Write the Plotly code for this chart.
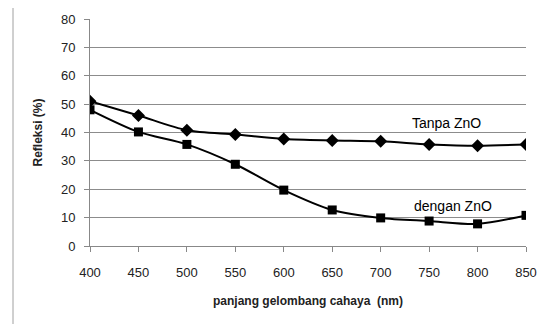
import plotly.graph_objects as go

wavelength = [400, 450, 500, 550, 600, 650, 700, 750, 800, 850]
tanpa_zno = [51.0, 46.0, 40.8, 39.3, 37.7, 37.2, 36.9, 35.8, 35.3, 35.8]
dengan_zno = [48.0, 40.2, 35.8, 28.8, 19.7, 12.7, 9.9, 8.8, 7.8, 10.8]

font_family = "Liberation Sans, Arial, sans-serif"

fig = go.Figure()
fig.add_trace(go.Scatter(
    x=wavelength, y=tanpa_zno, mode="lines+markers", name="Tanpa ZnO",
    line=dict(color="black", width=2, shape="spline", smoothing=0.8),
    marker=dict(symbol="diamond", size=10, color="black"),
))
fig.add_trace(go.Scatter(
    x=wavelength, y=dengan_zno, mode="lines+markers", name="dengan ZnO",
    line=dict(color="black", width=2, shape="spline", smoothing=0.8),
    marker=dict(symbol="square", size=9, color="black"),
))

fig.add_annotation(x=768, y=43.3, text="Tanpa ZnO", showarrow=False,
                   font=dict(size=14, color="black", family=font_family))
fig.add_annotation(x=775, y=14.1, text="dengan ZnO", showarrow=False,
                   font=dict(size=14, color="black", family=font_family))

# outer chart border
fig.add_shape(type="line", xref="paper", yref="paper", x0=-0.1766, x1=1.0436, y0=1.0705, y1=1.0705,
              line=dict(color="#a0a0a0", width=1))
fig.add_shape(type="line", xref="paper", yref="paper", x0=-0.1766, x1=-0.1766, y0=1.0705, y1=-0.4,
              line=dict(color="#a0a0a0", width=1))

fig.update_layout(
    width=542, height=316,
    margin=dict(l=82, r=24, t=11, b=78, autoexpand=False),
    paper_bgcolor="white", plot_bgcolor="white",
    showlegend=False,
    font=dict(family=font_family, size=13, color="#222222"),
    xaxis=dict(
        range=[400, 850], tickmode="array", tickvals=wavelength,
        showgrid=False, showline=True, linecolor="#888888", linewidth=1,
        ticks="outside", ticklen=5, tickcolor="#888888",
        ticklabelstandoff=9,
        zeroline=False, automargin=False,
        title=dict(text="<b>panjang gelombang cahaya  (nm)</b>", font=dict(size=12), standoff=18),
    ),
    yaxis=dict(
        range=[0, 80], tickmode="array", tickvals=[0, 10, 20, 30, 40, 50, 60, 70, 80],
        showgrid=True, gridcolor="#8c8c8c", gridwidth=1,
        showline=True, linecolor="#888888", linewidth=1,
        ticks="outside", ticklen=5, tickcolor="#888888",
        ticklabelstandoff=6,
        zeroline=False, automargin=False,
        title=dict(text="<b>Refleksi (%)</b>", font=dict(size=12), standoff=15),
    ),
)

fig.write_html("out.html")
